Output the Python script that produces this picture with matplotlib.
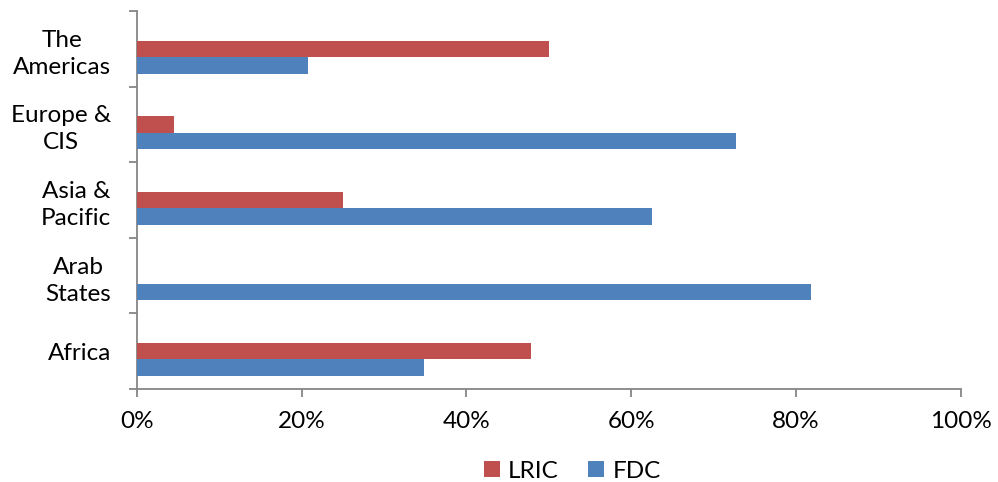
import numpy as np
import matplotlib.pyplot as plt
from matplotlib.lines import Line2D

# regions, listed bottom to top as drawn
regions = ["Africa", "Arab\nStates", "Asia &\nPacific", "Europe &\nCIS", "The\nAmericas"]
lric = [47.8, 0.0, 25.0, 4.5, 50.0]
fdc = [34.8, 81.8, 62.5, 72.7, 20.8]
xticks = [0, 20, 40, 60, 80, 100]

red = "#C0504D"
blue = "#4F81BD"

plt.rcParams['font.family'] = ['Lato', 'DejaVu Sans']
fs = 17.5

fig = plt.figure(figsize=(9.98, 4.82), dpi=100)
ax = fig.add_axes([137 / 998, 93 / 482, 823.5 / 998, 378 / 482])

y = np.arange(len(regions))
h = 0.218
ax.barh(y, lric, height=h, color=red, label="LRIC", zorder=3)
ax.barh(y - h, fdc, height=h, color=blue, label="FDC", zorder=3)

ax.set_xlim(0, 100)
ax.set_ylim(-0.5, len(regions) - 0.5)

axis_col = "#868686"
for s in ["top", "right"]:
    ax.spines[s].set_visible(False)
for s in ["left", "bottom"]:
    ax.spines[s].set_color(axis_col)
    ax.spines[s].set_linewidth(1.3)

ax.set_xticks(xticks)
ax.set_xticklabels([f"{v}%" for v in xticks])
ax.set_yticks(y)
ax.set_yticklabels(regions)
ax.set_yticks(np.arange(-0.5, len(regions)), minor=True)

ax.tick_params(axis="x", length=5.5, width=1.3, color=axis_col, pad=10,
               labelsize=fs, labelcolor="black")
ax.tick_params(axis="y", which="major", length=0, pad=18.5, labelsize=fs)
ax.tick_params(axis="y", which="minor", length=5.5, width=1.3, color=axis_col)
for lab in ax.get_yticklabels():
    lab.set_multialignment("center")
    lab.set_linespacing(1.35)

# square legend keys like the original
handles = [Line2D([], [], marker="s", linestyle="none", markersize=11.5,
                  markerfacecolor=c, markeredgewidth=0) for c in (red, blue)]
fig.legend(handles, ["LRIC", "FDC"], loc="center",
           bbox_to_anchor=(572 / 998, 11 / 482), ncol=2,
           frameon=False, fontsize=fs, handlelength=0.66,
           handletextpad=0.33, columnspacing=1.23, borderpad=0.1)

fig.savefig("out.png", dpi=100)
